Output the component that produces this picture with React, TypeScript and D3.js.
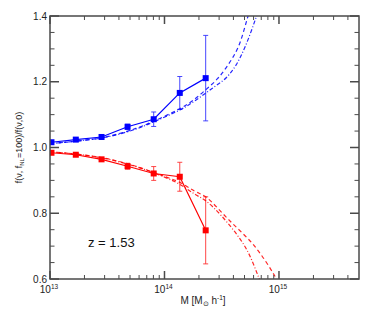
import React from 'react';
import * as d3 from 'd3';

// measured halo mass bins [M_sun/h] and ratios
const massBins = [1.03e13, 1.68e13, 2.82e13, 4.76e13, 8.05e13, 1.36e14, 2.29e14];
const blueRatio = [1.016, 1.024, 1.032, 1.063, 1.086, 1.166, 1.211];
const blueErr = [0.004, 0.004, 0.005, 0.008, 0.022, 0.05, 0.13];
const redRatio = [0.984, 0.978, 0.964, 0.943, 0.921, 0.911, 0.748];
const redErr = [0.004, 0.004, 0.005, 0.009, 0.021, 0.044, 0.102];

// theory curves
const blueDashedM = [1e13, 1.78e13, 3.16e13, 5.62e13, 8.05e13, 1.36e14, 1.77e14, 2.3e14, 2.92e14, 3.57e14, 4.4e14, 5.37e14, 6.27e14];
const blueDashedV = [1.012, 1.02, 1.033, 1.058, 1.08, 1.118, 1.143, 1.176, 1.21, 1.25, 1.305, 1.4, 1.48];
const blueDotDashM = [1e13, 1.78e13, 3.16e13, 5.62e13, 8.05e13, 1.36e14, 1.77e14, 2.3e14, 2.82e14, 3.48e14, 4.2e14, 5.04e14, 6.37e14, 7.36e14];
const blueDotDashV = [1.012, 1.02, 1.032, 1.056, 1.078, 1.114, 1.138, 1.166, 1.188, 1.213, 1.25, 1.305, 1.4, 1.47];
const redDashedM = [1e13, 1.78e13, 3.16e13, 5.62e13, 1e14, 1.36e14, 1.84e14, 2.29e14, 3.6e14, 6.15e14, 9.2e14, 1.12e15];
const redDashedV = [0.987, 0.979, 0.966, 0.943, 0.912, 0.894, 0.867, 0.85, 0.782, 0.699, 0.609, 0.55];
const redDotDashM = [1e13, 1.78e13, 3.16e13, 5.62e13, 1e14, 1.36e14, 1.84e14, 2.29e14, 3.15e14, 5.04e14, 6.58e14, 7.94e14];
const redDotDashV = [0.987, 0.979, 0.965, 0.942, 0.91, 0.888, 0.858, 0.838, 0.792, 0.699, 0.609, 0.53];

const yMajor = [0.6, 0.8, 1.0, 1.2, 1.4];
const xMajor = [1e13, 1e14, 1e15];
const xMajorExp = ['13', '14', '15'];

const W = 374;
const H = 312;
const margin = { top: 16, right: 15, bottom: 33, left: 50 };

const BLUE = '#0000ff';
const RED = '#ff0000';
const AXIS = '#4a4a4a';
const FONT = '"Liberation Sans", Arial, sans-serif';

export default function App() {
  const x = d3.scaleLog().domain([1e13, 5e15]).range([margin.left, W - margin.right]);
  const y = d3.scaleLinear().domain([0.6, 1.4]).range([H - margin.bottom, margin.top]);
  const [x0, x1] = x.range();
  const [y0, y1] = y.range();

  const line = d3.line<[number, number]>()
    .x(d => x(d[0]))
    .y(d => y(d[1]))
    .curve(d3.curveCatmullRom.alpha(0.5));

  const pairs = (m: number[], v: number[]) => m.map((d, i) => [d, v[i]] as [number, number]);

  const xMinor: number[] = [];
  for (let e = 13; e <= 15; e++) {
    for (let k = 2; k <= 9; k++) {
      const v = k * Math.pow(10, e);
      if (v < 5e15) xMinor.push(v);
    }
  }
  const yMinor = d3.range(0.65, 1.4, 0.05).filter(v => Math.abs(v * 5 - Math.round(v * 5)) > 1e-6);

  const series = [
    { color: BLUE, vals: blueRatio, err: blueErr, dashed: pairs(blueDashedM, blueDashedV), dotdash: pairs(blueDotDashM, blueDotDashV) },
    { color: RED, vals: redRatio, err: redErr, dashed: pairs(redDashedM, redDashedV), dotdash: pairs(redDotDashM, redDotDashV) },
  ];

  return (
    <svg width={W} height={H} style={{ position: 'absolute', left: 0, top: 0, background: '#fff' }} fontFamily={FONT}>
      <defs>
        <clipPath id="plot">
          <rect x={x0} y={y1} width={x1 - x0} height={y0 - y1} />
        </clipPath>
      </defs>

      <g clipPath="url(#plot)">
        {series.map((s, si) => (
          <g key={si}>
            <path d={line(s.dashed) || ''} fill="none" stroke={s.color} strokeWidth={1.2} strokeDasharray="4,3" opacity={0.85} />
            <path d={line(s.dotdash) || ''} fill="none" stroke={s.color} strokeWidth={1.2} strokeDasharray="4,2,1,2" opacity={0.85} />
            <path
              d={d3.line<number>().x((d, i) => x(massBins[i])).y(d => y(d))(s.vals) || ''}
              fill="none"
              stroke={s.color}
              strokeWidth={1.2}
            />
            {s.vals.map((v, i) => (
              <g key={i} stroke={s.color} strokeWidth={0.9} opacity={0.8}>
                <line x1={x(massBins[i])} x2={x(massBins[i])} y1={y(v - s.err[i])} y2={y(v + s.err[i])} />
                <line x1={x(massBins[i]) - 2.5} x2={x(massBins[i]) + 2.5} y1={y(v - s.err[i])} y2={y(v - s.err[i])} />
                <line x1={x(massBins[i]) - 2.5} x2={x(massBins[i]) + 2.5} y1={y(v + s.err[i])} y2={y(v + s.err[i])} />
              </g>
            ))}
            {s.vals.map((v, i) => (
              <rect key={i} x={x(massBins[i]) - 3} y={y(v) - 3} width={6} height={6} fill={s.color} />
            ))}
          </g>
        ))}
      </g>

      {/* frame and ticks */}
      <g stroke={AXIS} strokeWidth={1.5}>
        <rect x={x0} y={y1} width={x1 - x0} height={y0 - y1} fill="none" />
        {xMajor.map(v => (
          <g key={v}>
            <line x1={x(v)} x2={x(v)} y1={y0} y2={y0 - 8} />
            <line x1={x(v)} x2={x(v)} y1={y1} y2={y1 + 8} />
          </g>
        ))}
        {xMinor.map(v => (
          <g key={v} strokeWidth={1}>
            <line x1={x(v)} x2={x(v)} y1={y0} y2={y0 - 4} />
            <line x1={x(v)} x2={x(v)} y1={y1} y2={y1 + 4} />
          </g>
        ))}
        {yMajor.map(v => (
          <g key={v}>
            <line x1={x0} x2={x0 + 9} y1={y(v)} y2={y(v)} />
            <line x1={x1} x2={x1 - 9} y1={y(v)} y2={y(v)} />
          </g>
        ))}
        {yMinor.map(v => (
          <g key={v} strokeWidth={1}>
            <line x1={x0} x2={x0 + 4.5} y1={y(v)} y2={y(v)} />
            <line x1={x1} x2={x1 - 4.5} y1={y(v)} y2={y(v)} />
          </g>
        ))}
      </g>

      {/* tick labels */}
      <g fontSize={10} fill="#222">
        {yMajor.map(v => (
          <text key={v} x={x0 - 3} y={y(v) + 3.5} textAnchor="end">{v.toFixed(1)}</text>
        ))}
        {xMajor.map((v, i) => (
          <text key={v} x={x(v) - 1} y={y0 + 14} textAnchor="middle">
            10<tspan fontSize={6.5} dy={-4}>{xMajorExp[i]}</tspan>
          </text>
        ))}
      </g>

      {/* axis titles */}
      <text x={203} y={304} fontSize={10} fill="#222" textAnchor="middle">
        M  [M<tspan fontSize={7} dy={2}>⊙</tspan><tspan dy={-2}> h</tspan><tspan fontSize={6.5} dy={-4}>-1</tspan><tspan dy={4}>]</tspan>
      </text>
      <text transform={`translate(22,${(y0 + y1) / 2}) rotate(-90)`} fontSize={9} fill="#222" textAnchor="middle">
        f(ν, f<tspan fontSize={6} dy={2}>NL</tspan><tspan dy={-2}>=100)/f(ν,0)</tspan>
      </text>
      <text x={88} y={247} fontSize={13} fill="#111">z = 1.53</text>
    </svg>
  );
}
